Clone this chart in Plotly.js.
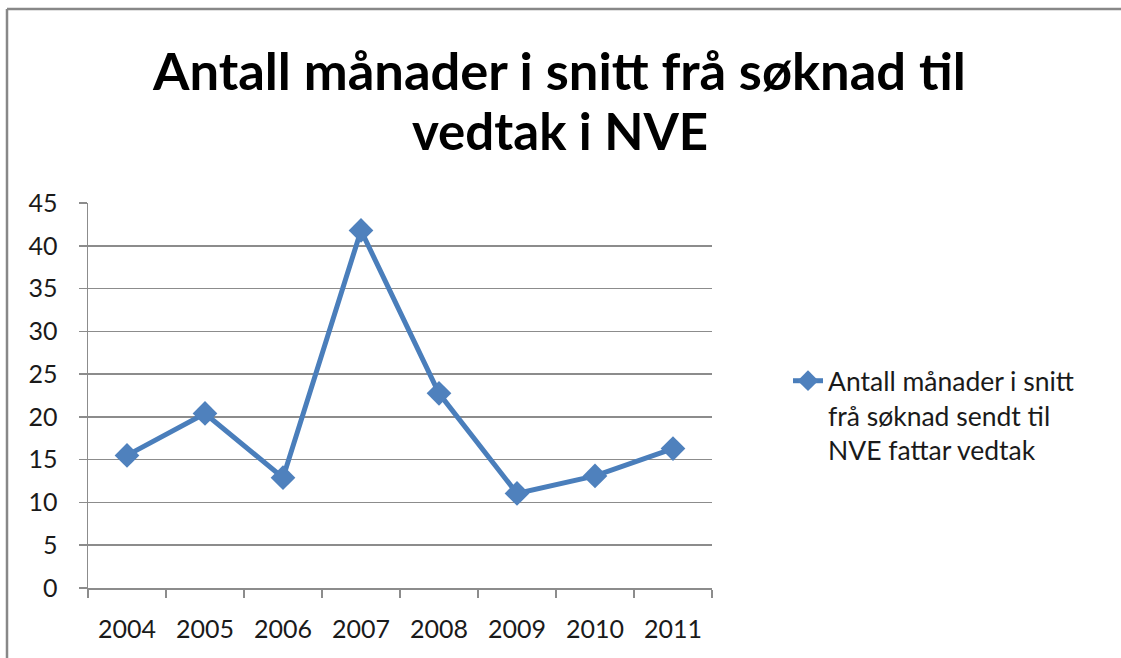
<!DOCTYPE html>
<html>
<head>
<meta charset="utf-8">
<script src="https://cdn.plot.ly/plotly-3.0.1.min.js"></script>
<style>html,body{margin:0;padding:0;background:#fff}#chart{width:1121px;height:658px}</style>
</head>
<body>
<div id="chart"></div>
<script>
const years = ['2004','2005','2006','2007','2008','2009','2010','2011'];
const months = [15.5, 20.4, 12.9, 41.8, 22.75, 11.05, 13.1, 16.3];
const seriesName = 'Antall månader i snitt<br>frå søknad sendt til<br>NVE fattar vedtak';
const titleLines = ['Antall månader i snitt frå søknad til', 'vedtak i NVE'];
const yTicks = [0,5,10,15,20,25,30,35,40,45];

const FONT = 'Lato, Calibri, "Liberation Sans", sans-serif';
const GRID = '#8c8c8c';
const PH = 385; // plot height px
const py = px => (588 - px) / PH;

const trace = {
  x: years, y: months, type: 'scatter', mode: 'lines+markers', name: seriesName,
  line: {color: '#4a7ebb', width: 5},
  marker: {symbol: 'diamond', size: 19, color: '#4f81bd', line: {width: 0}}
};

const layout = {
  width: 1121, height: 658,
  margin: {l: 88, r: 409, t: 203, b: 70},
  paper_bgcolor: '#fff', plot_bgcolor: '#fff',
  font: {family: FONT, color: '#1a1a1a'},
  annotations: [
    {text: titleLines[0], xref: 'paper', yref: 'paper', x: (559-88)/624, y: py(69),
     xanchor: 'center', yanchor: 'middle', showarrow: false,
     font: {family: FONT, size: 52.5, color: '#000', weight: 'bold'}},
    {text: titleLines[1], xref: 'paper', yref: 'paper', x: (560-88)/624, y: py(131),
     xanchor: 'center', yanchor: 'middle', showarrow: false,
     font: {family: FONT, size: 51, color: '#000', weight: 'bold'}}
  ],
  xaxis: {type: 'category', range: [-0.5, 7.5], showgrid: false, showline: true,
          linecolor: GRID, linewidth: 1.5, ticks: 'outside', tickson: 'boundaries',
          ticklen: 8, tickcolor: GRID, tickwidth: 1.5, ticklabelstandoff: 18,
          tickfont: {size: 25, color: '#1a1a1a'}, zeroline: false, fixedrange: true},
  yaxis: {range: [0, 45], tickvals: yTicks, showgrid: true, gridcolor: GRID, gridwidth: 1.5,
          showline: true, linecolor: GRID, linewidth: 1.5, ticks: 'outside', ticklen: 8,
          tickcolor: GRID, tickwidth: 1.5, ticklabelstandoff: 16, zeroline: false,
          tickfont: {size: 25, color: '#1a1a1a'}, fixedrange: true},
  showlegend: true,
  legend: {x: (788-88)/624, xanchor: 'left', y: py(357), yanchor: 'top',
           valign: 'top', font: {size: 26.5, color: '#1a1a1a'}, bgcolor: 'rgba(0,0,0,0)',
           tracegroupgap: 0},
  shapes: [
    {type: 'line', xref: 'paper', yref: 'paper', x0: (7-88)/624, x1: (7-88)/624,
     y0: -0.5, y1: py(9), line: {color: '#888', width: 2.5}},
    {type: 'line', xref: 'paper', yref: 'paper', x0: (7-88)/624, x1: 2,
     y0: py(9), y1: py(9), line: {color: '#888', width: 2.5}}
  ]
};

Plotly.newPlot('chart', [trace], layout, {displayModeBar: false, staticPlot: true});
</script>
</body>
</html>
